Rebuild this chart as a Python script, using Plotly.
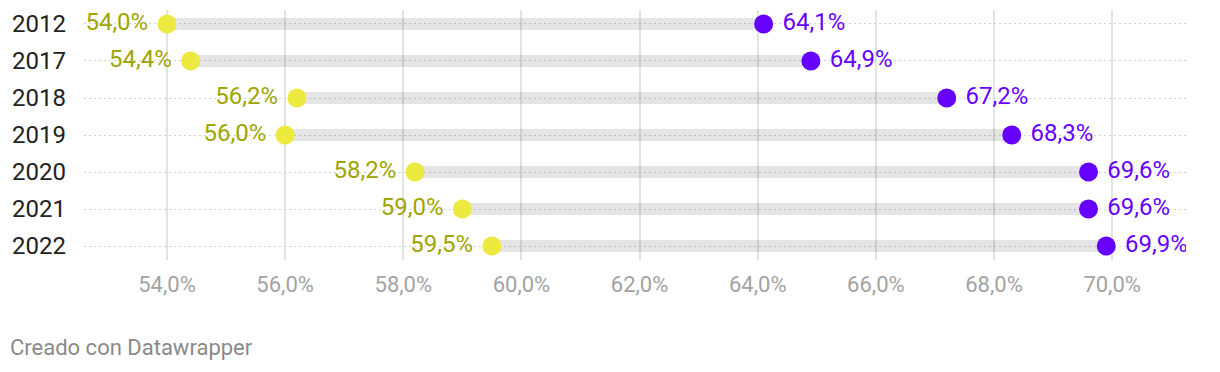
import plotly.graph_objects as go

years = ["2012", "2017", "2018", "2019", "2020", "2021", "2022"]
low_vals = [54.0, 54.4, 56.2, 56.0, 58.2, 59.0, 59.5]
high_vals = [64.1, 64.9, 67.2, 68.3, 69.6, 69.6, 69.9]
tick_vals = [54, 56, 58, 60, 62, 64, 66, 68, 70]
tick_text = ["54,0%", "56,0%", "58,0%", "60,0%", "62,0%", "64,0%", "66,0%", "68,0%", "70,0%"]

def fmt(v):
    return f"{v:.1f}%".replace(".", ",")

FONT = "Roboto"
YELLOW = "#ece93f"
YELLOW_TXT = "#9fa500"
PURPLE = "#6600ff"
NB = "\u00a0"

# range bars
bx, by = [], []
for y, a, b in zip(years, low_vals, high_vals):
    bx += [a, b, None]
    by += [y, y, None]

fig = go.Figure()
fig.add_trace(go.Scatter(
    x=bx, y=by, mode="lines",
    line=dict(color="rgba(0,0,0,0.10)", width=12),
    hoverinfo="skip", showlegend=False,
))
fig.add_trace(go.Scatter(
    x=low_vals, y=years, mode="markers+text",
    marker=dict(color=YELLOW, size=19),
    text=[fmt(v) + NB for v in low_vals], textposition="middle left",
    textfont=dict(family=FONT, size=24, color=YELLOW_TXT),
    showlegend=False,
))
fig.add_trace(go.Scatter(
    x=high_vals, y=years, mode="markers+text",
    marker=dict(color=PURPLE, size=19),
    text=[NB + fmt(v) for v in high_vals], textposition="middle right",
    textfont=dict(family=FONT, size=24, color=PURPLE),
    showlegend=False,
))

L, T, W, H = 76, 2, 1102, 250
fig.update_layout(
    width=1220, height=372,
    margin=dict(l=L, r=1220 - L - W, t=T, b=372 - T - H),
    paper_bgcolor="white", plot_bgcolor="white",
    font=dict(family=FONT),
    xaxis=dict(
        range=[52.595, 71.25], tickvals=tick_vals, ticktext=tick_text,
        showgrid=True, gridcolor="#e3e3e3", gridwidth=2,
        zeroline=False, showline=False, ticks="",
        tickfont=dict(family=FONT, size=22, color="#a3a3a3"),
        ticklabelstandoff=9,
    ),
    yaxis=dict(
        type="category", categoryarray=years, range=[6.378, -0.378],
        showgrid=True, gridcolor="#d2d2d2", gridwidth=1, griddash="2px,3px",
        zeroline=False, showline=False, ticks="",
        tickfont=dict(family=FONT, size=24, color="#222222"),
        ticklabelstandoff=17,
    ),
    annotations=[dict(
        text="Creado con Datawrapper", xref="paper", yref="paper",
        x=(0 - L) / W, y=-88 / H, xanchor="left", yanchor="middle",
        showarrow=False, font=dict(family=FONT, size=22, color="#8a8a8a"),
    )],
)

fig.write_html("out.html")
